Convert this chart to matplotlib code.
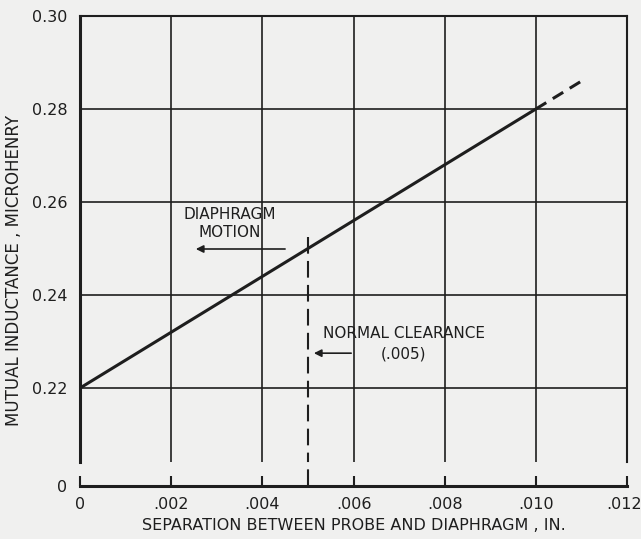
import matplotlib.pyplot as plt
import matplotlib.transforms as mtransforms

# data
sep = [0.0, 0.010]
ind = [0.22, 0.28]
sep_ext = [0.010, 0.011]
ind_ext = [0.28, 0.286]
clearance = 0.005
xticks = [0, 0.002, 0.004, 0.006, 0.008, 0.010, 0.012]
xlabels = ['0', '.002', '.004', '.006', '.008', '.010', '.012']
yticks = [0.22, 0.24, 0.26, 0.28, 0.30]
ylabels = ['0.22', '0.24', '0.26', '0.28', '0.30']

ink = '#1e1e1e'
bg = '#f0f0ef'
plt.rcParams['font.family'] = 'DejaVu Sans'

fig = plt.figure(figsize=(6.41, 5.39), dpi=100, facecolor=bg)
W, H = 641, 539
ax = fig.add_axes([80 / W, 1 - 462 / H, 547 / W, 446 / H], facecolor='none')
axb = fig.add_axes([80 / W, 1 - 486 / H, 547 / W, 24 / H], facecolor='none')

# upper part
ax.set_xlim(0, 0.012)
ax.set_ylim(0.2041, 0.30)
ax.set_xticks(xticks)
ax.set_yticks(yticks)
ax.set_yticklabels(ylabels)
ax.tick_params(axis='x', length=0, labelbottom=False)
ax.tick_params(axis='y', length=0, pad=9, labelsize=11.5, colors=ink)
ax.grid(True, color=ink, lw=1.2)
for s in ['top', 'left', 'right']:
    ax.spines[s].set_color(ink)
ax.spines['top'].set_linewidth(1.5)
ax.spines['right'].set_linewidth(1.5)
ax.spines['left'].set_linewidth(2.2)
ax.spines['bottom'].set_visible(False)

ax.plot(sep, ind, color=ink, lw=2.2, solid_capstyle='butt')
ax.plot(sep_ext, ind_ext, color=ink, lw=2.2, dashes=(4, 2.5))
ax.plot([clearance, clearance], [0.2525, 0.2041], color=ink, lw=1.5,
        dashes=(8, 3.5), clip_on=False)

ax.text(0.00329, 0.2553, 'DIAPHRAGM\nMOTION', ha='center', va='center',
        fontsize=11, color=ink, linespacing=1.25)
ax.annotate('', xy=(0.00248, 0.2499), xytext=(0.00456, 0.2499),
            arrowprops=dict(arrowstyle='-|>', color=ink, lw=1.2,
                            mutation_scale=11))
ax.text(0.00533, 0.2318, 'NORMAL CLEARANCE', ha='left', va='center',
        fontsize=11, color=ink)
ax.text(0.00709, 0.2274, '(.005)', ha='center', va='center',
        fontsize=11, color=ink)
ax.annotate('', xy=(0.00507, 0.2275), xytext=(0.00601, 0.2275),
            arrowprops=dict(arrowstyle='-|>', color=ink, lw=1.2,
                            mutation_scale=11))
ax.set_ylabel('MUTUAL INDUCTANCE , MICROHENRY', fontsize=12, color=ink)
ax.yaxis.set_label_coords(-0.104, 0.43)

# lower part (axis break down to zero)
axb.set_xlim(0, 0.012)
axb.set_ylim(0, 1)
axb.set_xticks(xticks)
axb.set_xticklabels(xlabels)
axb.set_yticks([0])
axb.set_yticklabels(['0'])
axb.tick_params(axis='x', direction='in', length=7.5, width=1.5, pad=8,
                labelsize=11.5, colors=ink)
axb.tick_params(axis='y', length=0, pad=9, labelsize=11.5, colors=ink)
last = axb.get_xticklabels()[-1]
last.set_transform(last.get_transform() +
                   mtransforms.ScaledTranslation(-0.03, 0, fig.dpi_scale_trans))
for s in ['top', 'left', 'right']:
    axb.spines[s].set_visible(False)
axb.spines['bottom'].set_color(ink)
axb.spines['bottom'].set_linewidth(2.2)
axb.plot([clearance, clearance], [0, 1], color=ink, lw=1.5, dashes=(8, 3.5))
axb.set_xlabel('SEPARATION BETWEEN PROBE AND DIAPHRAGM , IN.', fontsize=11.5,
               color=ink, labelpad=4)

fig.savefig('out.png', dpi=100, facecolor=bg)
